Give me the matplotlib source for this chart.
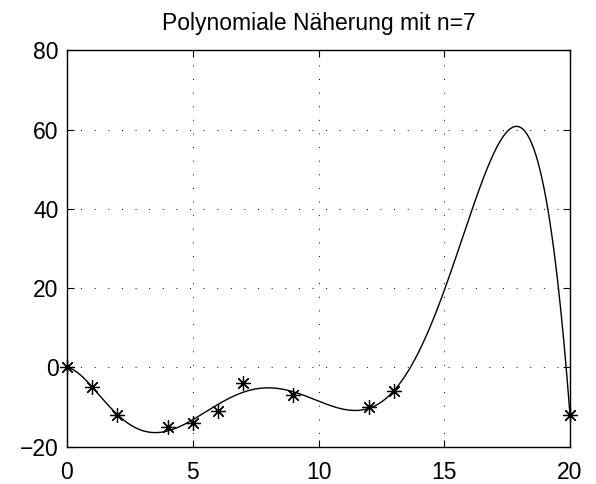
import numpy as np
import matplotlib.pyplot as plt

# Stuetzstellen
x_pts = [0, 1, 2, 4, 5, 6, 7, 9, 12, 13, 20]
y_pts = [0, -5, -12, -15, -14, -11, -4, -7, -10, -6, -12]
n = 7

xticks = [0, 5, 10, 15, 20]
yticks = [-20, 0, 20, 40, 60, 80]

plt.rcParams['font.family'] = ['Liberation Sans', 'DejaVu Sans']

coef = np.polyfit(x_pts, y_pts, n)
xx = np.linspace(0, 20, 500)
yy = np.polyval(coef, xx)

fig = plt.figure(figsize=(5.96, 4.84), dpi=100)
ax = fig.add_axes([0.1124, 0.0771, 0.8440, 0.8186])

ax.plot(xx, yy, color='black', linewidth=1.0)
ax.plot(x_pts, y_pts, linestyle='none', marker=(8, 2, 0), markersize=10.5,
        markeredgewidth=0.9, color='black', clip_on=False)

ax.set_xlim(0, 20)
ax.set_ylim(-20, 80)
ax.set_xticks(xticks)
ax.set_yticks(yticks)
ax.tick_params(direction='in', top=True, right=True, labelsize=16.5, length=5, width=0.8)
ax.tick_params(axis='x', pad=10)
ax.tick_params(axis='y', pad=6)
ax.grid(True, linestyle=(0, (1, 13)), color='black', linewidth=0.7)
for s in ax.spines.values():
    s.set_linewidth(1.0)

ax.set_title('Polynomiale Näherung mit n=7', fontsize=16.5, pad=15)

fig.savefig('out.png', dpi=100)
